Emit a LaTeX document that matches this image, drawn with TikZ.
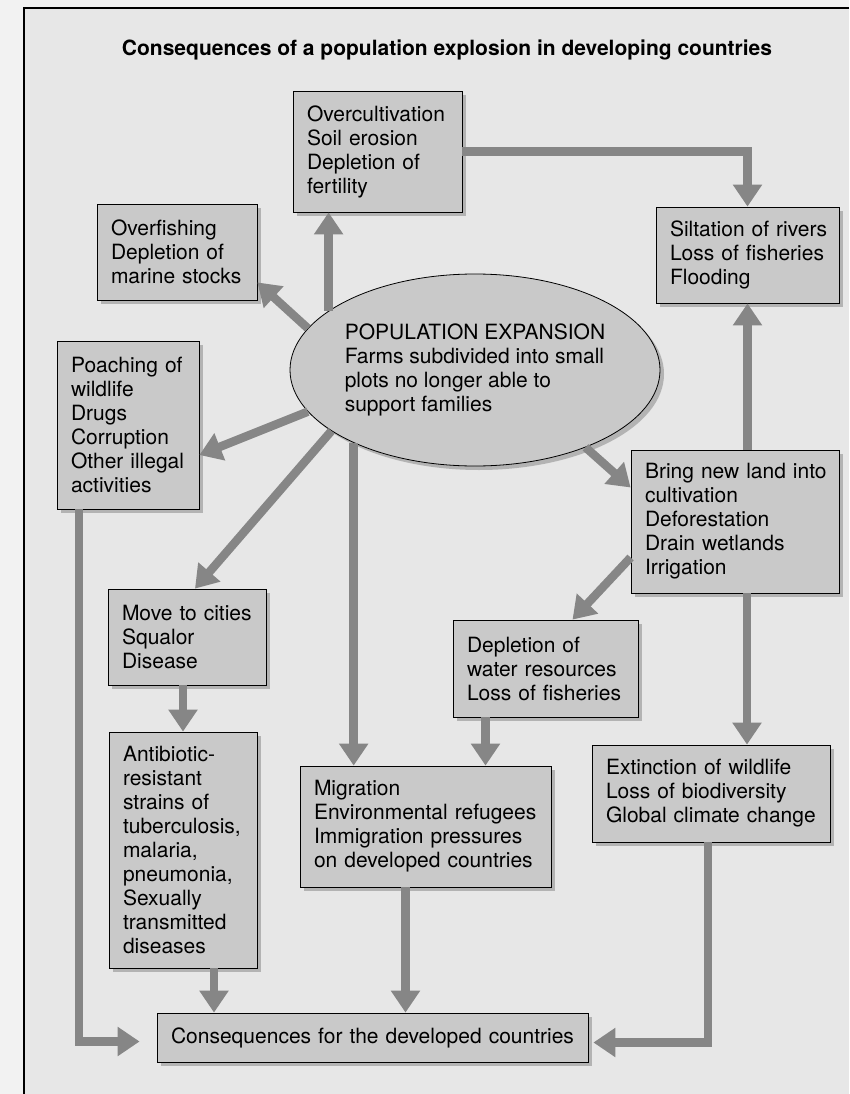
\documentclass[tikz,border=0pt]{standalone}
\usepackage{fontspec}
\setmainfont{TeX Gyre Heros}
\usetikzlibrary{arrows.meta}
\usetikzlibrary{shapes.geometric}
\usetikzlibrary{shadows}
\definecolor{pagegray}{HTML}{F2F2F2}
\definecolor{panelgray}{HTML}{E7E7E7}
\definecolor{boxgray}{HTML}{C9C9C9}
\definecolor{arrowgray}{HTML}{868686}
\newcommand{\diagfont}{\fontsize{21pt}{24pt}\selectfont}

\begin{document}
\begin{tikzpicture}[x=1pt, y=-1pt,
        infobox/.style={draw=black, line width=0.8pt, fill=boxgray, inner xsep=14pt, inner ysep=0pt,
            align=left, font=\diagfont,
            drop shadow={shadow xshift=4pt, shadow yshift=-4pt, fill=black!60, opacity=0.4}},
        flow/.style={draw=arrowgray, line width=8.5pt, -{Triangle[length=22pt,width=28pt]}}]
            \useasboundingbox (0,0) rectangle (849,1094);
            \fill[pagegray] (0,0) rectangle (849,1094);
            \fill[panelgray] (24,8) rectangle (849,1094);
            \draw[black, line width=1.6pt] (849,8) -- (24,8) -- (24,1094);

            \node[font=\fontsize{21pt}{24pt}\selectfont\bfseries] (title) at (447,50)
                {Consequences of a population explosion in developing countries};

            \node[ellipse, draw=black, line width=0.8pt, fill=boxgray, minimum width=370pt, minimum height=192pt,
                inner sep=0pt, align=left, font=\diagfont,
                drop shadow={shadow xshift=4pt, shadow yshift=-4pt, fill=black!60, opacity=0.4}] (pop) at (475,370)
                {POPULATION EXPANSION\\Farms subdivided into small\\plots no longer able to\\support families};

            \node[infobox, minimum width=169pt, minimum height=121pt, text width=141pt] (overcult) at (377.5,151.5)
                {Overcultivation\\Soil erosion\\Depletion of\\fertility};
            \node[infobox, minimum width=160pt, minimum height=96pt, text width=132pt] (fish) at (177,252)
                {Overfishing\\Depletion of\\marine~stocks};
            \node[infobox, minimum width=183pt, minimum height=96pt, text width=155pt] (silt) at (747.5,255)
                {Siltation~of~rivers\\Loss~of~fisheries\\Flooding};
            \node[infobox, minimum width=142pt, minimum height=168pt, text width=114pt] (poach) at (128,425)
                {Poaching~of\\wildlife\\Drugs\\Corruption\\Other~illegal\\activities};
            \node[infobox, minimum width=208pt, minimum height=143pt, text width=180pt] (bring) at (735,521.5)
                {Bring~new~land~into\\cultivation\\Deforestation\\Drain~wetlands\\Irrigation};
            \node[infobox, minimum width=158pt, minimum height=96pt, text width=130pt] (cities) at (187,637)
                {Move~to~cities\\Squalor\\Disease};
            \node[infobox, minimum width=148pt, minimum height=236pt, text width=120pt] (antib) at (183,850)
                {Antibiotic-\\resistant\\strains~of\\tuberculosis,\\malaria,\\pneumonia,\\Sexually\\transmitted\\diseases};
            \node[infobox, minimum width=185pt, minimum height=97pt, text width=157pt] (water) at (545.5,668.5)
                {Depletion~of\\water~resources\\Loss~of~fisheries};
            \node[infobox, minimum width=251pt, minimum height=121pt, text width=223pt] (migr) at (425.5,826.5)
                {Migration\\Environmental~refugees\\Immigration~pressures\\on~developed~countries};
            \node[infobox, minimum width=238pt, minimum height=97pt, text width=210pt] (extinct) at (711,793.5)
                {Extinction~of~wildlife\\Loss~of~biodiversity\\Global~climate~change};
            \node[infobox, align=center, minimum width=431pt, minimum height=49pt, text width=403pt] (conseq) at (372.5,1037.5)
                {Consequences for the developed countries};

            \draw[flow] (pop.158) -- (pop.158 |- overcult.south);
            \draw[flow] (overcult.east) -| (silt.north);
            \draw[flow] (pop.166) -- ([yshift=18pt]fish.south east);
            \draw[flow] (pop.194) -- ([yshift=-30pt]poach.east);
            \draw[flow] (pop.203) -- ([xshift=8pt]cities.north);
            \draw[flow] (pop.211) -- (pop.211 |- migr.north);
            \draw[flow] (pop.325) -- ([yshift=34pt]bring.west);
            \draw[flow] (silt.south |- bring.north) -- (silt.south);
            \draw[flow] ([yshift=-36pt]bring.west) -- ([xshift=27pt]water.north);
            \draw[flow] ([xshift=12pt]bring.south) -- ([xshift=12pt]bring.south |- extinct.north);
            \draw[flow] ([xshift=-60pt]water.south) -- ([xshift=-60pt]water.south |- migr.north);
            \draw[flow] (antib.north |- cities.south) -- (antib.north);
            \draw[flow] ([xshift=31pt]antib.south) -- ([xshift=31pt]antib.south |- conseq.north);
            \draw[flow] ([xshift=-20pt]migr.south) -- ([xshift=-20pt]migr.south |- conseq.north);
            \draw[flow] ([xshift=-49pt]poach.south) |- ([xshift=-17pt,yshift=-4pt]conseq.west);
            \draw[flow] ([xshift=-3pt]extinct.south) |- ([xshift=5pt,yshift=-5pt]conseq.east);
        \end{tikzpicture}
\end{document}
